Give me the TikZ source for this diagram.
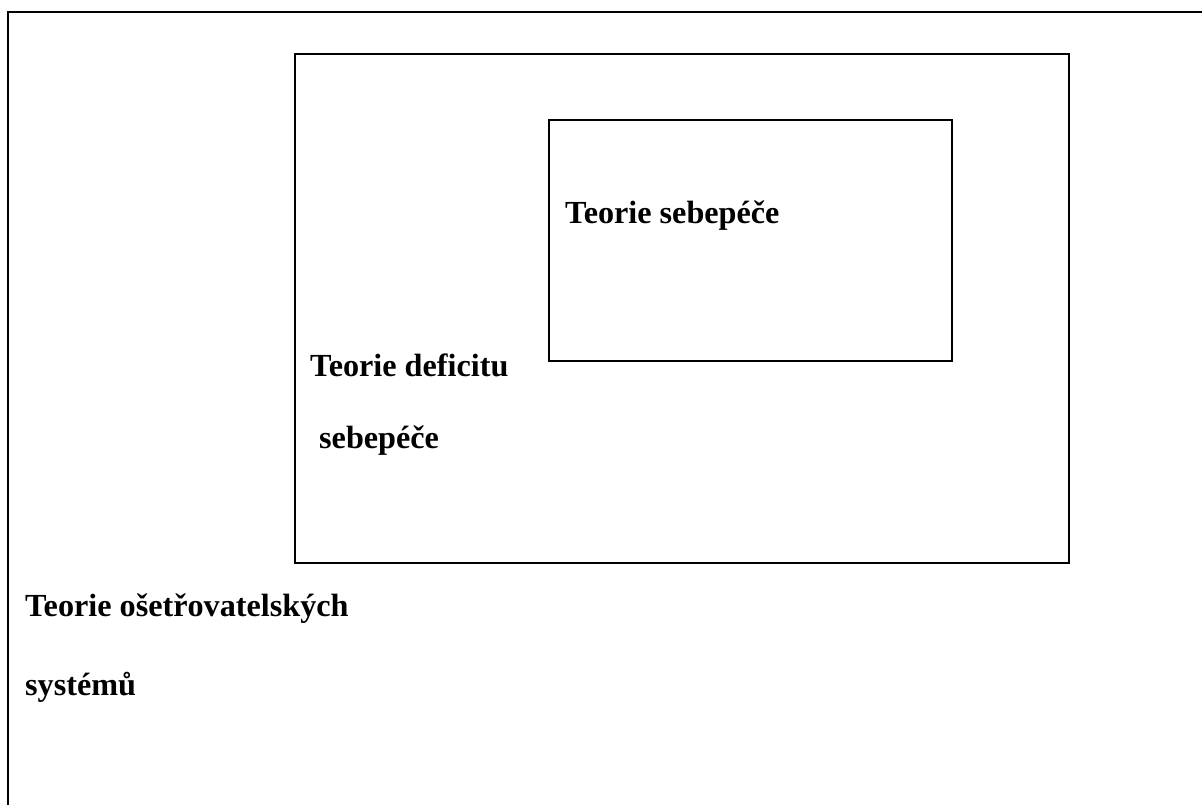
\documentclass[tikz,border=0pt]{standalone}
\usepackage{fontspec}
\setmainfont{Liberation Serif}
\begin{document}
\begin{tikzpicture}[x=1pt,y=1pt,
  box/.style={draw=black,line width=1.7pt,inner sep=0pt,outer sep=0pt,anchor=north west},
  lbl/.style={anchor=base west,inner sep=0pt,font=\fontsize{32.2}{38}\selectfont\bfseries}]
\useasboundingbox (0,0) rectangle (1202,-805);
\clip (0,0) rectangle (1202,-805);
\node[box,minimum width=1220pt,minimum height=820pt] (outer) at (8,-12) {};
\node[box,minimum width=774pt,minimum height=509pt] (mid) at (295,-54) {};
\node[box,minimum width=403pt,minimum height=241pt] (inner) at (549,-120) {};
\node[lbl] (t1) at (565,-224) {Teorie sebepéče};
\node[lbl] (t2) at (310,-376) {Teorie deficitu};
\node[lbl] (t3) at (319,-448) {sebepéče};
\node[lbl] (t4) at (25,-616) {Teorie ošetřovatelských};
\node[lbl] (t5) at (25,-695) {systémů};
\end{tikzpicture}
\end{document}
